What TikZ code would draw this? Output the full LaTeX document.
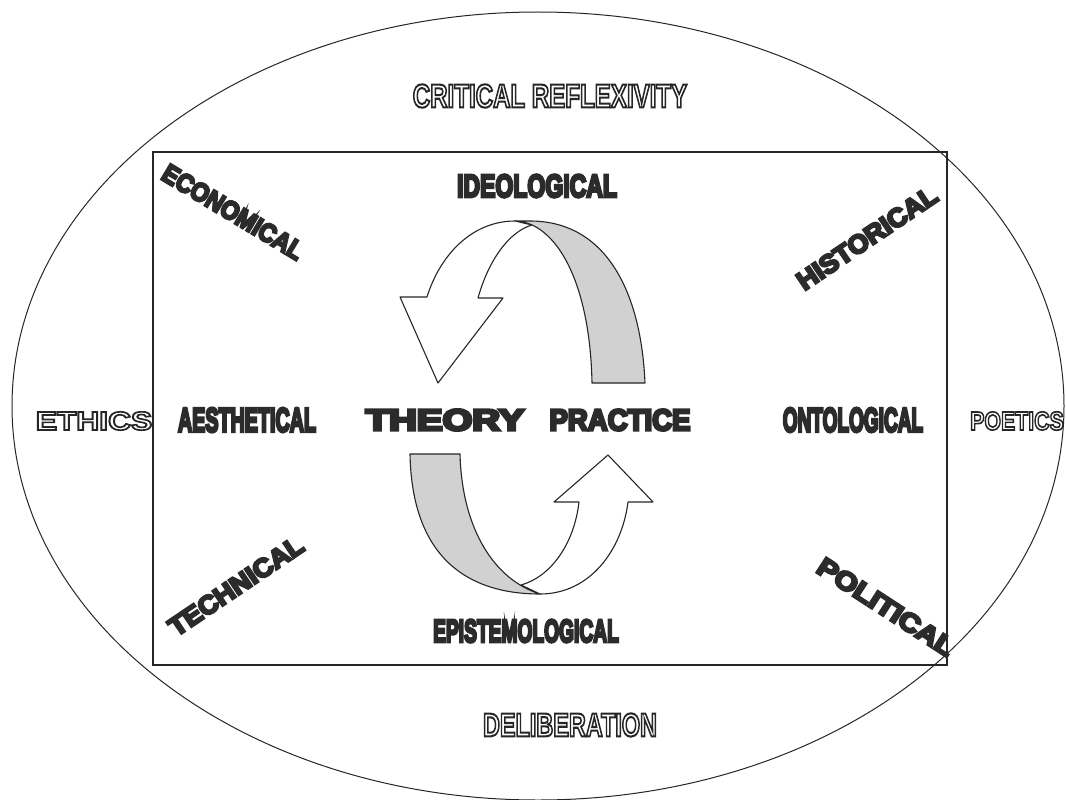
\documentclass[tikz,border=0pt]{standalone}
\usepackage{fontspec}
\setmainfont{Liberation Sans}
\newfontfamily\heavyfont{Liberation Sans Bold}[FakeBold=9]
\newfontfamily\hollowfont{Liberation Sans Bold}[FakeBold=6.3]
\usepackage{xcolor}
\usepackage{tikz}
\usepackage{graphicx}

% squeezed heavy word and hollow (outlined) word
\newcommand{\hvy}[2]{\scalebox{#1}[1]{\special{pdf:literal direct 0.17 0.17 0.17 RG}#2}}
\newcommand{\hlw}[2]{\scalebox{#1}[1]{\color{white}\special{pdf:literal direct 0.15 0.15 0.15 RG}#2}}

\begin{document}
\begin{tikzpicture}[x=1pt,y=-1pt,
			hollow/.style={font=\fontsize{33}{33}\selectfont\hollowfont, inner sep=0pt},
			heavy/.style={font=\fontsize{32}{32}\selectfont\heavyfont, text=black!83, inner sep=0pt},
			slant/.style={font=\fontsize{26}{26}\selectfont\heavyfont, text=black!83, inner sep=0pt},
			band/.style={draw=black!85, line width=1.1pt, fill=black!18, line join=round},
			turn/.style={draw=black!85, line width=1.1pt, fill=white, line join=round}]
			\useasboundingbox (0,0) rectangle (1066,800);
			
			% outer words
			\node[hollow] (critical) at (550,96) {\hlw{0.73}{CRITICAL REFLEXIVITY}};
			\node[hollow] (deliberation) at (570,725) {\hlw{0.71}{DELIBERATION}};
			\node[hollow,font=\fontsize{26}{26}\selectfont\hollowfont] (ethics) at (94,421) {\hlw{1.22}{ETHICS}};
			\node[hollow,font=\fontsize{26}{26}\selectfont\hollowfont] (poetics) at (1017,421) {\hlw{0.82}{POETICS}};
			
			\draw[black!85,line width=1pt] (538,406) ellipse [x radius=526, y radius=394];
			\draw[black!85,line width=1.4pt] (153,152) rectangle (947,665);
			
			% inner words
			\node[heavy] (ideological) at (537,186) {\hvy{0.72}{IDEOLOGICAL}};
			\node[heavy] (epistemological) at (526,631) {\hvy{0.6}{EPISTEMOLOGICAL}};
			\node[heavy,font=\fontsize{34}{34}\selectfont\heavyfont] (aesthetical) at (247,420) {\hvy{0.58}{AESTHETICAL}};
			\node[heavy,font=\fontsize{34}{34}\selectfont\heavyfont] (ontological) at (853,420) {\hvy{0.56}{ONTOLOGICAL}};
			\node[heavy,font=\fontsize{30}{30}\selectfont\heavyfont] (theory) at (445,420) {\hvy{1.28}{THEORY}};
			\node[heavy,font=\fontsize{30}{30}\selectfont\heavyfont] (practice) at (620,420) {\hvy{0.92}{PRACTICE}};
			
			\node[slant,rotate=-31] (economical) at (233,212) {\hvy{0.9}{ECONOMICAL}};
			\node[slant,rotate=34] (historical) at (867,238) {\hvy{1.03}{HISTORICAL}};
			\node[slant,rotate=34] (technical) at (236,586) {\hvy{1.04}{TECHNICAL}};
			\node[slant,rotate=-33] (political) at (886,607) {\hvy{1.15}{POLITICAL}};
			
			% upper turning arrow
			\draw[band] (592,383) -- (645,383) .. controls (641,290) and (605,221) .. (530,221)
				-- (515,221) .. controls (555,222) and (590,280) .. (592,383) -- cycle;
			\draw[turn] (515,221) .. controls (472,221) and (440,255) .. (427,297) -- (400,297)
				-- (438,383) -- (503,298) -- (478,298) .. controls (488,262) and (508,232) .. (532,225) -- cycle;
			
			% lower turning arrow
			\draw[band] (410,454) -- (460,454) .. controls (462,530) and (495,580) .. (540,594)
				.. controls (470,594) and (412,560) .. (410,454) -- cycle;
			\draw[turn] (521,585) -- (540,594) .. controls (590,594) and (622,550) .. (628,502) -- (653,502)
				-- (608,455) -- (554,502) -- (579,502) .. controls (574,545) and (550,577) .. (521,585) -- cycle;
		\end{tikzpicture}
\end{document}
